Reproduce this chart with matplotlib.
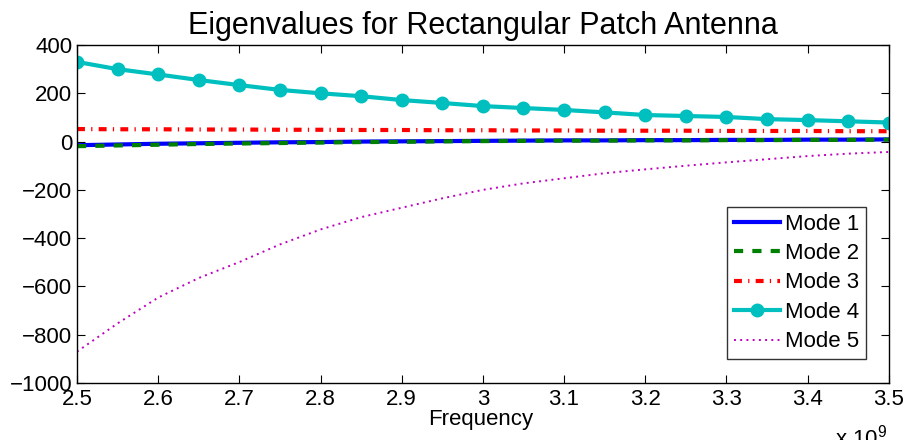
import matplotlib
matplotlib.use("Agg")
import matplotlib.pyplot as plt
import numpy as np
from matplotlib.ticker import FuncFormatter

plt.rcParams['font.family'] = ['Liberation Sans', 'DejaVu Sans']
plt.rcParams['mathtext.fontset'] = 'custom'
plt.rcParams['mathtext.rm'] = 'Liberation Sans'

# frequency sweep (Hz)
freq = np.arange(2.5e9, 3.5e9 + 1, 0.05e9)

mode1 = [-15, -12, -9, -7, -5, -3, -2, 0, 1, 2, 3, 4, 5, 5, 6, 6, 7, 7, 8, 8, 9]
mode2 = [-19, -16, -13, -10, -8, -6, -4, -2, -1, 1, 2, 3, 4, 4, 5, 5, 6, 6, 7, 7, 8]
mode3 = [52, 51, 51, 50, 50, 49, 49, 48, 48, 47, 47, 46, 46, 45, 45, 45, 44, 44, 44, 43, 43]
mode4 = [330, 300, 278, 255, 234, 214, 200, 188, 172, 160, 147, 139, 131, 121, 110, 106, 102, 93, 89, 84, 79]
mode5 = [-870, -753, -646, -565, -499, -426, -364, -313, -274, -235, -200,
         -173, -152, -131, -115, -100, -86, -73, -60, -50, -43]

fig = plt.figure(figsize=(9.06, 4.40), dpi=100)
ax = fig.add_axes([0.085, 0.1295, 0.896, 0.7682])

ax.plot(freq, mode1, color='#0000ff', lw=3.0, label='Mode 1')
ax.plot(freq, mode2, color='#008000', lw=3.0, ls=(0, (2.2, 2.2)), label='Mode 2')
ax.plot(freq, mode3, color='#ff0000', lw=3.0, ls=(0, (1.9, 1.5, 0.3, 1.5)), label='Mode 3')
ax.plot(freq, mode4, color='#00bfbf', lw=3.0, marker='o', ms=9, label='Mode 4')
ax.plot(freq, mode5, color='#bf00bf', lw=1.4, ls=(0, (1.0, 2.2)), label='Mode 5')

ax.set_xlim(2.5e9, 3.5e9)
ax.set_ylim(-1000, 400)
ax.set_xticks(np.arange(2.5e9, 3.5e9 + 1, 0.1e9))
ax.set_yticks(np.arange(-1000, 401, 200))
ax.xaxis.set_major_formatter(FuncFormatter(lambda v, p: f'{v / 1e9:g}'))
ax.yaxis.set_major_formatter(FuncFormatter(lambda v, p: f'{v:g}'.replace('-', '\u2212')))

ax.tick_params(direction='in', length=6, width=0.8, top=True, right=True, labelsize=16)
ax.tick_params(axis='x', pad=4.5)
ax.tick_params(axis='y', pad=3.5)
for s in ax.spines.values():
    s.set_linewidth(1.0)

ax.set_title('Eigenvalues for Rectangular Patch Antenna', fontsize=22, pad=8)
ax.set_xlabel('Frequency', fontsize=16)
ax.xaxis.set_label_coords(0.497, -0.078)
fig.text(835 / 906, -0.0136, r'x 10$^{9}$', fontsize=16, ha='left', va='baseline')

leg = ax.legend(loc='lower right', bbox_to_anchor=(0.9717, 0.071), fontsize=16,
                frameon=True, fancybox=False, edgecolor='black', handlelength=2.07,
                handletextpad=0.23, labelspacing=0.38, borderpad=0.3, borderaxespad=0)
leg.get_frame().set_linewidth(1.0)

fig.savefig('out.png', dpi=100)
